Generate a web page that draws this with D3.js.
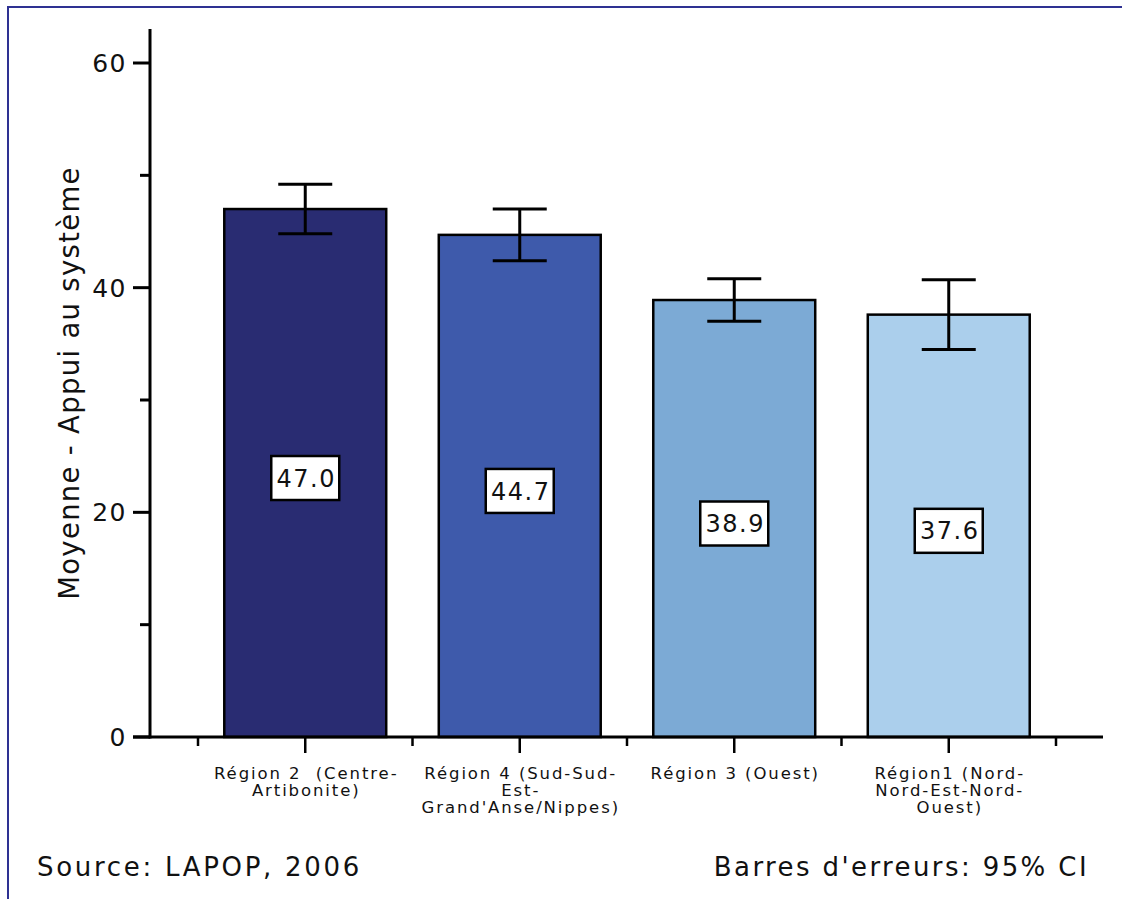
<!DOCTYPE html>
<html><head><meta charset="utf-8">
<script src="https://cdn.jsdelivr.net/npm/d3@7"></script>
<style>body{margin:0;background:#fff}svg{display:block}text{font-family:"DejaVu Sans",sans-serif;fill:#111;white-space:pre}</style>
</head><body>
<script>
const categories = [["Région 2  (Centre-","Artibonite)"],["Région 4 (Sud-Sud-","Est-","Grand'Anse/Nippes)"],["Région 3 (Ouest)"],["Région1 (Nord-","Nord-Est-Nord-","Ouest)"]];
const means = [47.0, 44.7, 38.9, 37.6];
const ciLow = [44.8, 42.4, 37.0, 34.5];
const ciHigh = [49.2, 47.0, 40.8, 40.7];
const colors = ["#292c72","#3e5aab","#7caad5","#abcfec"];
const yTicks = [0, 20, 40, 60];
const yMinor = [10, 30, 50];

const W=1122,H=899;
const svg=d3.select("body").append("svg").attr("width",W).attr("height",H);
svg.append("line").attr("x1",8).attr("x2",W).attr("y1",7).attr("y2",7).attr("stroke","#2e3192").attr("stroke-width",2);
svg.append("line").attr("x1",8).attr("x2",8).attr("y1",6).attr("y2",H).attr("stroke","#2e3192").attr("stroke-width",2);

const y=d3.scaleLinear().domain([0,60]).range([737,63]);
const idx=d3.range(categories.length);
const x=d3.scaleBand().domain(idx).range([198,1056]).paddingInner(0.245).paddingOuter(0.1225);
const xc=i=>x(i)+x.bandwidth()/2;
const step=x.step();

svg.selectAll("rect.bar").data(idx).join("rect").attr("class","bar")
 .attr("x",i=>x(i)).attr("width",x.bandwidth()).attr("y",i=>y(means[i])).attr("height",i=>y(0)-y(means[i]))
 .attr("fill",i=>colors[i]).attr("stroke","#000").attr("stroke-width",2.5);

const ax=svg.append("g");
ax.append("line").attr("x1",150).attr("x2",150).attr("y1",29).attr("y2",y(0)+1.5).attr("stroke","#000").attr("stroke-width",3);
ax.selectAll("line.maj").data(yTicks).join("line").attr("x1",133).attr("x2",150).attr("y1",d=>y(d)).attr("y2",d=>y(d)).attr("stroke","#000").attr("stroke-width",3);
ax.selectAll("line.min").data(yMinor).join("line").attr("x1",140).attr("x2",150).attr("y1",d=>y(d)).attr("y2",d=>y(d)).attr("stroke","#000").attr("stroke-width",3);
ax.selectAll("text").data(yTicks).join("text").attr("x",127).attr("y",d=>y(d)).attr("dy","0.36em").attr("text-anchor","end").attr("font-size",25).attr("letter-spacing","1.5px").text(d=>d);

svg.append("line").attr("x1",133).attr("x2",1103).attr("y1",y(0)).attr("y2",y(0)).attr("stroke","#000").attr("stroke-width",3);
const bounds=d3.range(categories.length+1).map(i=>198+i*step);
svg.selectAll("line.xmin").data(bounds).join("line").attr("x1",d=>d).attr("x2",d=>d).attr("y1",y(0)).attr("y2",y(0)+9).attr("stroke","#000").attr("stroke-width",2.5);
svg.selectAll("line.xmaj").data(idx).join("line").attr("x1",xc).attr("x2",xc).attr("y1",y(0)).attr("y2",y(0)+16).attr("stroke","#000").attr("stroke-width",2.5);
const lab=svg.selectAll("text.xl").data(idx).join("text").attr("class","xl").attr("text-anchor","middle").attr("font-size",16.5).attr("letter-spacing","1.9px");
lab.each(function(i){const t=d3.select(this);categories[i].forEach((s,k)=>t.append("tspan").attr("x",xc(i)+1).attr("y",779+k*17).text(s));});

const eb=svg.selectAll("g.eb").data(idx).join("g");
eb.append("line").attr("x1",xc).attr("x2",xc).attr("y1",i=>y(ciHigh[i])).attr("y2",i=>y(ciLow[i])).attr("stroke","#000").attr("stroke-width",3);
eb.append("line").attr("x1",i=>xc(i)-27).attr("x2",i=>xc(i)+27).attr("y1",i=>y(ciHigh[i])).attr("y2",i=>y(ciHigh[i])).attr("stroke","#000").attr("stroke-width",3);
eb.append("line").attr("x1",i=>xc(i)-27).attr("x2",i=>xc(i)+27).attr("y1",i=>y(ciLow[i])).attr("y2",i=>y(ciLow[i])).attr("stroke","#000").attr("stroke-width",3);

const vl=svg.selectAll("g.vl").data(idx).join("g").attr("transform",i=>`translate(${xc(i)},${y(means[i]/2)+5})`);
vl.append("rect").attr("x",-34).attr("y",-22).attr("width",68).attr("height",44).attr("fill","#fff").attr("stroke","#000").attr("stroke-width",2.5);
vl.append("text").attr("x",1).attr("text-anchor","middle").attr("dy","0.36em").attr("font-size",24).attr("letter-spacing","1.5px").text(i=>means[i].toFixed(1));

svg.append("text").attr("transform","translate(79,383) rotate(-90)").attr("text-anchor","middle").attr("font-size",27.5).attr("letter-spacing","1.3px").text("Moyenne - Appui au système");

svg.append("text").attr("x",37).attr("y",876).attr("font-size",26).attr("letter-spacing","2.7px").text("Source: LAPOP, 2006");
svg.append("text").attr("x",1089).attr("y",876).attr("text-anchor","end").attr("font-size",26).attr("letter-spacing","2.4px").text("Barres d'erreurs: 95% CI");
</script>
</body></html>
